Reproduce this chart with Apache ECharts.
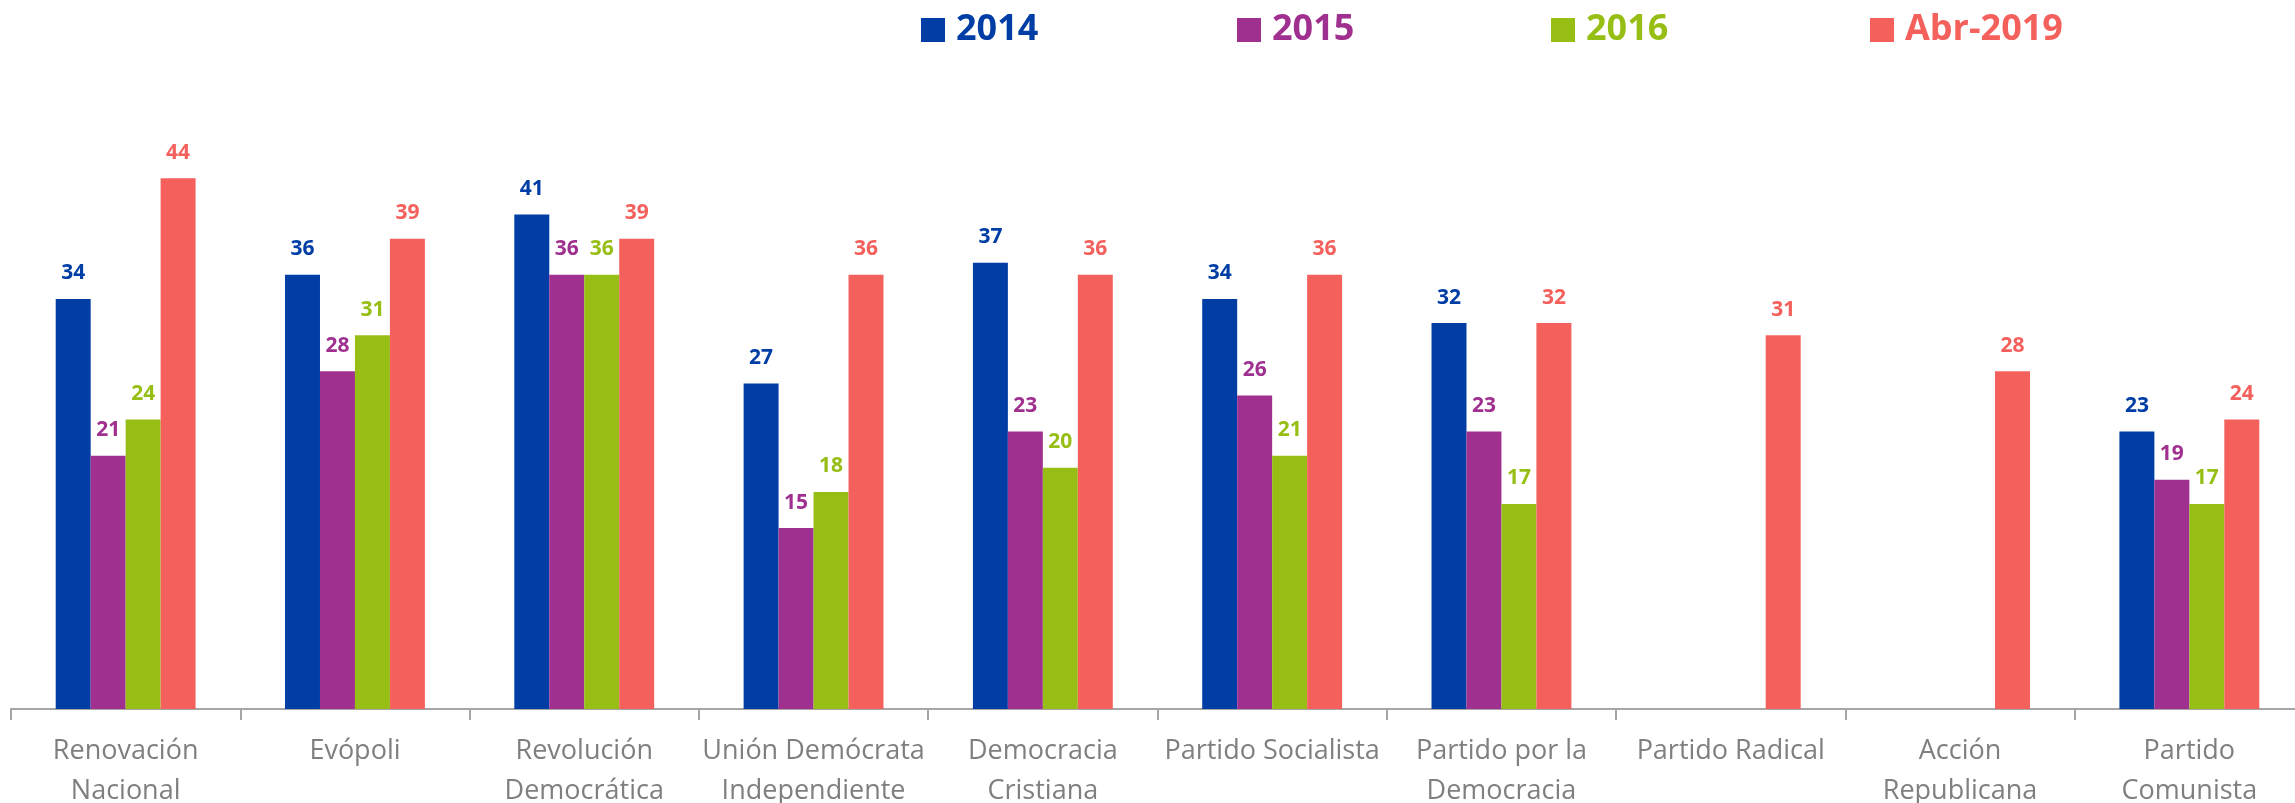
<!DOCTYPE html>
<html>
<head>
<meta charset="utf-8">
<script src="https://cdn.jsdelivr.net/npm/echarts@6/dist/echarts.min.js"></script>
<style>
  html, body { margin: 0; padding: 0; background: #fff; }
  #chart { width: 2295px; height: 803px; }
</style>
</head>
<body>
<div id="chart"></div>
<script>
// partidos (eje x)
const categories = [
    'Renovación\nNacional',
    'Evópoli',
    'Revolución\nDemocrática',
    'Unión Demócrata\nIndependiente',
    'Democracia\nCristiana',
    'Partido Socialista',
    'Partido por la\nDemocracia',
    'Partido Radical',
    'Acción\nRepublicana',
    'Partido\nComunista'
]
const seriesNames = ['2014', '2015', '2016', 'Abr-2019']
const data2014 = [34, 36, 41, 27, 37, 34, 32, null, null, 23]
const data2015 = [21, 28, 36, 15, 23, 26, 23, null, null, 19]
const data2016 = [24, 31, 36, 18, 20, 21, 17, null, null, 17]
const dataAbr2019 = [44, 39, 39, 36, 36, 36, 32, 31, 28, 24]

const colors = ['#003DA5', '#A0308F', '#96BE14', '#F4605C']
const allData = [data2014, data2015, data2016, dataAbr2019]
const legendLeft = [921, 1237, 1551, 1870]

const chartInstance = echarts.init(document.getElementById('chart'))

const legendArr = seriesNames.map((name, index) => {
    return {
        data: [name],
        left: legendLeft[index],
        top: 12,
        padding: 0,
        itemWidth: 24,
        itemHeight: 24,
        itemGap: 0,
        icon: 'rect',
        textStyle: {
            color: colors[index],
            fontSize: 36,
            fontWeight: 'bold',
            fontFamily: 'Open Sans',
            padding: [0, 0, 0, 6]
        }
    }
})

const seriesArr = seriesNames.map((name, index) => {
    return {
        name: name,
        type: 'bar',
        data: allData[index],
        barGap: 0,
        barCategoryGap: '39%',
        itemStyle: { color: colors[index] },
        label: {
            show: true,
            position: 'top',
            distance: 15,
            color: colors[index],
            fontSize: 21,
            fontWeight: 'bold',
            fontFamily: 'Open Sans'
        }
    }
})

const option = {
    animation: false,
    legend: legendArr,
    grid: {
        left: 11,
        right: -9,
        top: 106,
        bottom: 94,
        containLabel: false,
        outerBoundsMode: 'none'
    },
    xAxis: {
        type: 'category',
        data: categories,
        axisLine: { lineStyle: { color: '#A6A6A6', width: 2 } },
        axisTick: { show: true, length: 11, lineStyle: { color: '#A6A6A6', width: 2 } },
        axisLabel: {
            color: '#7F7F7F',
            fontSize: 27,
            fontFamily: 'Open Sans',
            lineHeight: 40,
            margin: 22,
            interval: 0
        }
    },
    yAxis: {
        type: 'value',
        min: 0,
        max: 50,
        show: false,
        splitLine: { show: false }
    },
    series: seriesArr
}
chartInstance.setOption(option)
</script>
</body>
</html>
